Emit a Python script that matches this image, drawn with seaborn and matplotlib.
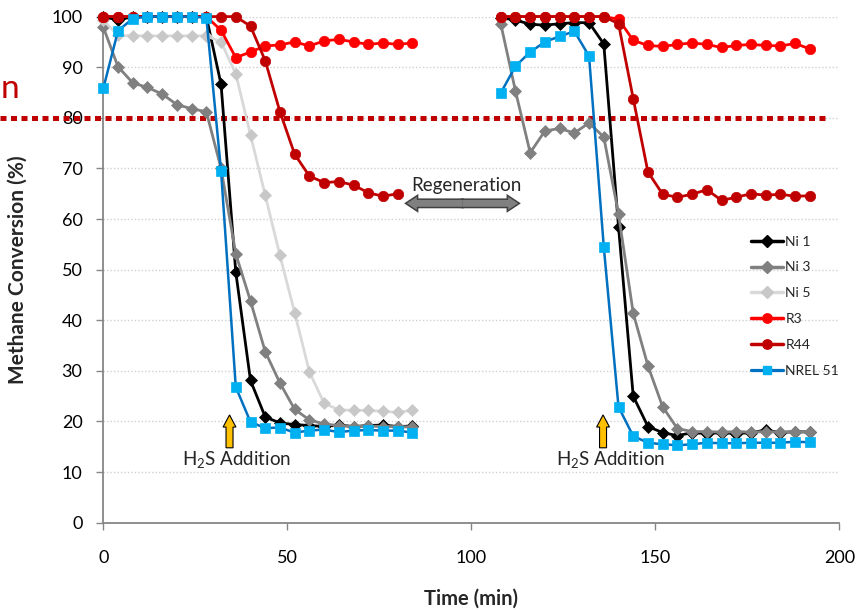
import matplotlib
matplotlib.use('Agg')
import matplotlib.pyplot as plt
import pandas as pd
import seaborn as sns
from matplotlib.lines import Line2D

# ---- data ----
T1 = [0, 4, 8, 12, 16, 20, 24, 28, 32, 36, 40, 44, 48, 52, 56, 60, 64, 68, 72, 76, 80, 84]
T2 = [108, 112, 116, 120, 124, 128, 132, 136, 140, 144, 148, 152, 156, 160, 164, 168, 172, 176, 180, 184, 188, 192]

ni1_a = [100, 99.3, 100, 100, 100, 100, 100, 100, 86.6, 49.5, 28.1, 20.9, 19.7, 19.4, 19.2, 19.0, 19.3, 19.0, 19.2, 19.3, 19.0, 19.1]
ni1_b = [99.8, 99.3, 98.5, 98.3, 98.6, 98.8, 98.8, 94.6, 58.5, 25.0, 19.0, 17.8, 17.2, 17.8, 17.6, 17.8, 17.6, 17.8, 18.3, 17.8, 18.0, 17.9]

ni3_a = [97.9, 90.1, 86.9, 86.0, 84.7, 82.6, 81.8, 81.2, 70.0, 53.1, 43.8, 33.8, 27.6, 22.4, 20.3, 19.5, 19.2, 19.0, 19.1, 19.0, 19.0, 18.9]
ni3_b = [98.6, 85.3, 73.1, 77.4, 77.9, 77.0, 79.0, 76.2, 61.0, 41.4, 31.0, 22.9, 18.6, 18.0, 18.0, 17.9, 18.0, 17.9, 18.0, 17.9, 18.0, 17.9]

ni5_a = [99.3, 96.3, 96.2, 96.2, 96.2, 96.2, 96.2, 96.2, 95.0, 88.7, 76.6, 64.7, 52.8, 41.5, 29.8, 23.6, 22.3, 22.2, 22.2, 22.0, 21.8, 22.2]

r3_a = [100, 100, 100, 100, 100, 100, 100, 100, 97.3, 91.9, 93.0, 94.2, 94.4, 95.0, 94.2, 95.2, 95.5, 95.0, 94.5, 94.8, 94.5, 94.8]
r3_b = [100, 100, 100, 100, 100, 100, 100, 100, 99.5, 95.3, 94.3, 94.1, 94.5, 94.8, 94.5, 93.9, 94.3, 94.5, 94.3, 94.2, 94.7, 93.6]

T1_r44 = [0, 4, 8, 12, 16, 20, 24, 28, 32, 36, 40, 44, 48, 52, 56, 60, 64, 68, 72, 76, 80]
r44_a = [100, 100, 100, 100, 100, 100, 100, 100, 100, 100, 98.1, 91.3, 81.2, 72.8, 68.5, 67.2, 67.4, 66.7, 65.2, 64.5, 65.0]
r44_b = [100, 100, 100, 100, 100, 100, 100, 100, 98.6, 83.8, 69.3, 64.9, 64.3, 64.9, 65.8, 63.7, 64.3, 65.0, 64.7, 64.9, 64.5, 64.6]

nrel_a = [85.8, 97.2, 99.6, 100, 100, 100, 100, 99.8, 69.5, 26.8, 19.9, 18.7, 18.8, 17.8, 18.2, 18.4, 17.9, 18.2, 18.3, 18.2, 18.2, 17.8]
nrel_b = [84.9, 90.2, 93.0, 95.0, 96.1, 97.1, 92.2, 54.5, 22.9, 17.1, 15.8, 15.5, 15.3, 15.5, 15.8, 15.7, 15.7, 15.8, 15.8, 15.8, 16.0, 15.9]

series_names = ["Ni 1", "Ni 3", "Ni 5", "R3", "R44", "NREL 51"]
yticks = [0, 10, 20, 30, 40, 50, 60, 70, 80, 90, 100]
xticks = [0, 50, 100, 150, 200]

# ---- styles ----
styles = {
    "Ni 1": dict(color="#000000", mfc="#000000", marker="D", ms=6.5, lw=2.0),
    "Ni 3": dict(color="#808080", mfc="#808080", marker="D", ms=6.5, lw=2.0),
    "Ni 5": dict(color="#d9d9d9", mfc="#c8c8c8", marker="D", ms=6.5, lw=2.0),
    "R3": dict(color="#ff0000", mfc="#ff0000", marker="o", ms=7.5, lw=2.0),
    "R44": dict(color="#c00000", mfc="#c00000", marker="o", ms=7.5, lw=2.0),
    "NREL 51": dict(color="#0070c0", mfc="#00b0f0", marker="s", ms=7.0, lw=1.8),
}
segments = {
    "Ni 1": [(T1, ni1_a), (T2, ni1_b)],
    "Ni 3": [(T1, ni3_a), (T2, ni3_b)],
    "Ni 5": [(T1, ni5_a)],
    "R3": [(T1, r3_a), (T2, r3_b)],
    "R44": [(T1_r44, r44_a), (T2, r44_b)],
    "NREL 51": [(T1, nrel_a), (T2, nrel_b)],
}

sns.set_theme(style="white")
plt.rcParams['font.family'] = ['Lato', 'DejaVu Sans']
plt.rcParams['mathtext.fontset'] = 'custom'
plt.rcParams['mathtext.rm'] = 'Lato'

fig = plt.figure(figsize=(8.61, 6.10), dpi=100)
ax = fig.add_axes([103.3 / 861, 1 - 522.7 / 610, 736 / 861, 506.1 / 610])

handles = []
for z, name in enumerate(series_names):
    st = styles[name]
    for tx, vals in segments[name]:
        df = pd.DataFrame({"Time": tx, "Conv": vals})
        sns.lineplot(data=df, x="Time", y="Conv", ax=ax, color=st["color"],
                     marker=st["marker"], markersize=st["ms"],
                     markerfacecolor=st["mfc"], markeredgecolor=st["mfc"],
                     markeredgewidth=0.5, linewidth=st["lw"],
                     estimator=None, sort=False, clip_on=False, zorder=3 + z)
    handles.append(Line2D([], [], color=st["color"], marker=st["marker"],
                          markersize=st["ms"] * 0.9, markerfacecolor=st["mfc"],
                          markeredgecolor=st["mfc"], linewidth=st["lw"] + 0.5,
                          label=name))

ax.set_xlim(0, 200)
ax.set_ylim(0, 100)
ax.set_xticks(xticks)
ax.set_yticks(yticks)
ax.tick_params(axis='y', direction='out', length=5, width=1, color='#868686',
               pad=10, labelsize=13, labelcolor='#000000', left=True)
ax.tick_params(axis='x', direction='out', length=5, width=1, color='#868686',
               pad=15, labelsize=13, labelcolor='#000000', bottom=True)
ax.yaxis.grid(True, color='#d0d0d0', linestyle=(0, (1, 1.5)), linewidth=1)
ax.xaxis.grid(False)
ax.set_axisbelow(True)
for s in ['top', 'right']:
    ax.spines[s].set_visible(False)
for s in ['left', 'bottom']:
    ax.spines[s].set_color('#868686')
    ax.spines[s].set_linewidth(1.3)

ax.set_xlabel("Time (min)", fontsize=14.5, fontweight='bold')
ax.set_ylabel("Methane Conversion (%)", fontsize=15, fontweight='bold')
ax.xaxis.set_label_coords(0.499, -0.131)
ax.yaxis.set_label_coords(-0.103, 0.5)

# 80% target line
ax.axhline(80, xmin=-0.141, xmax=0.983, color='#c00000', linewidth=3.6,
           linestyle=(0, (1.2, 0.9)), dash_capstyle='butt', clip_on=False, zorder=2)
fig.text(1 / 861, 1 - 98 / 610, "n", color='#c00000', fontsize=24,
         ha='left', va='baseline')

# Regeneration double arrow
for d in (15.1, -15.1):
    ax.arrow(97.6, 63.1, d, 0, width=1.35, head_width=2.6, head_length=2.7,
             length_includes_head=True, fc='#404040', ec='#404040', lw=2.2, zorder=20)
for d in (15.1, -15.1):
    ax.arrow(97.6, 63.1, d, 0, width=1.35, head_width=2.6, head_length=2.7,
             length_includes_head=True, fc='#808080', ec='none', lw=0, zorder=21)
ax.text(98.6, 66.7, "Regeneration", fontsize=13.5, ha='center', va='center', zorder=22)

# H2S addition arrows
for xa in (34.3, 135.8):
    ax.arrow(xa, 14.8, 0, 6.5, width=1.9, head_width=3.5, head_length=2.4,
             length_includes_head=True, fc='#ffc000', ec='#000000', lw=0.8, zorder=20)
    ax.text(xa + 2.0, 12.4, r"H$_\mathrm{2}$S Addition", fontsize=13.5,
            ha='center', va='center', zorder=22)

leg = ax.legend(handles=handles, loc='upper left',
                bbox_to_anchor=(745 / 861, 1 - 230 / 610), bbox_transform=fig.transFigure,
                frameon=False, fontsize=10, handlelength=2.3, handletextpad=0.2,
                labelspacing=1.0, borderaxespad=0)

fig.savefig('out.png', dpi=100)
